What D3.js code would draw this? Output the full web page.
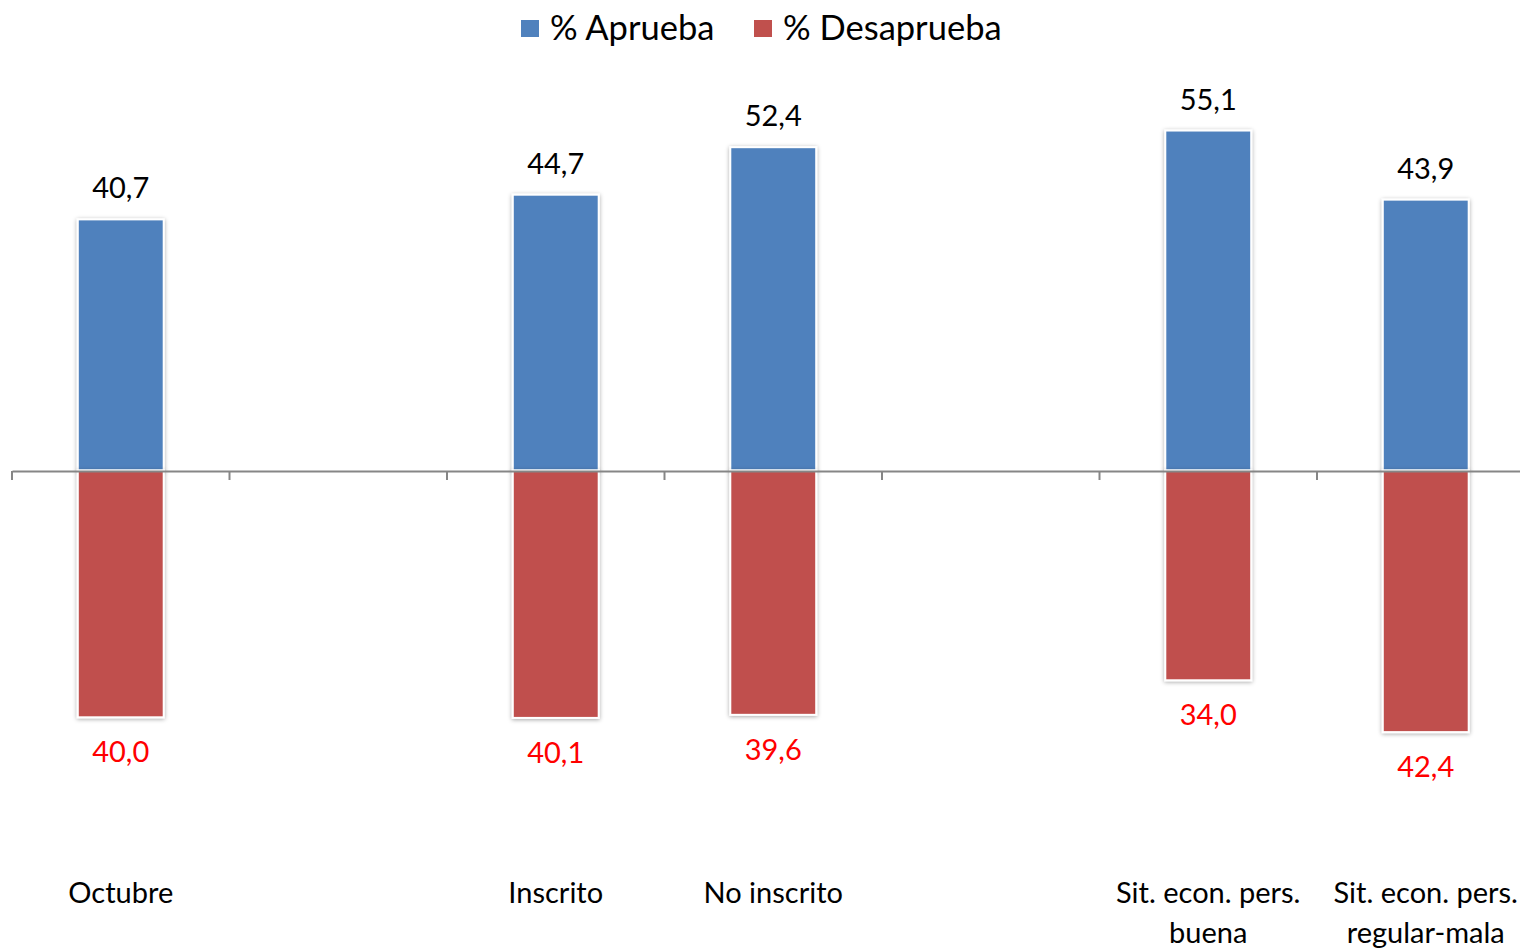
<!DOCTYPE html>
<html>
<head>
<meta charset="utf-8">
<script src="https://cdn.jsdelivr.net/npm/d3@7"></script>
<style>
  html, body { margin: 0; padding: 0; background: #fff; }
  svg { display: block; font-family: Lato, "Open Sans", sans-serif; }
</style>
</head>
<body>
<svg id="chart" width="1520" height="948"></svg>
<script>
// ---- data ----
const categories = [
  ["Octubre"],
  [""],
  ["Inscrito"],
  ["No inscrito"],
  [""],
  ["Sit. econ. pers.", "buena"],
  ["Sit. econ. pers.", "regular-mala"]
];
const aprueba    = [40.7, null, 44.7, 52.4, null, 55.1, 43.9];
const desaprueba = [40.0, null, 40.1, 39.6, null, 34.0, 42.4];
const seriesNames = ["% Aprueba", "% Desaprueba"];
const seriesColors = ["#4F81BD", "#C0504D"];

// ---- layout ----
const svg = d3.select("#chart");
const W = 1520, H = 948;

const defs = svg.append("defs");
const f = defs.append("filter").attr("id", "shadow")
  .attr("x", "-20%").attr("y", "-20%").attr("width", "140%").attr("height", "140%");
f.append("feDropShadow").attr("dx", 0).attr("dy", 1).attr("stdDeviation", 2)
  .attr("flood-color", "#000").attr("flood-opacity", 0.35);

const idx = d3.range(categories.length);
const x = d3.scaleBand().domain(idx).range([12, 1534.5]).padding(0);
const y = d3.scaleLinear().domain([-60, 60]).range([840.7, 100.3]);
const barW = x.bandwidth() * 0.395;
const fmt = v => d3.format(".1f")(v).replace(".", ",");

// bars
const g = svg.append("g");
idx.forEach(i => {
  const cx = x(i) + x.bandwidth() / 2;
  if (aprueba[i] != null) {
    g.append("rect")
      .attr("x", cx - barW / 2).attr("y", y(aprueba[i]))
      .attr("width", barW).attr("height", y(0) - y(aprueba[i]))
      .attr("fill", seriesColors[0]).attr("stroke", "#fff").attr("stroke-width", 2)
      .attr("filter", "url(#shadow)");
  }
  if (desaprueba[i] != null) {
    g.append("rect")
      .attr("x", cx - barW / 2).attr("y", y(0))
      .attr("width", barW).attr("height", y(-desaprueba[i]) - y(0))
      .attr("fill", seriesColors[1]).attr("stroke", "#fff").attr("stroke-width", 2)
      .attr("filter", "url(#shadow)");
  }
});

// axis
const axisG = svg.append("g").attr("transform", `translate(0,${y(0) + 0.5})`);
const axis = d3.axisBottom(x).tickSizeInner(0).tickSizeOuter(0).tickFormat("");
axisG.call(axis);
axisG.select(".domain").attr("stroke", "#868686").attr("stroke-width", 2);
axisG.selectAll(".tick").remove();
const bounds = idx.map(i => x(i));
axisG.selectAll("line.sep").data(bounds).join("line").attr("class", "sep")
  .attr("x1", d => d).attr("x2", d => d).attr("y1", 0).attr("y2", 9)
  .attr("stroke", "#868686").attr("stroke-width", 2);

// value labels
idx.forEach(i => {
  const cx = x(i) + x.bandwidth() / 2;
  if (aprueba[i] != null) {
    svg.append("text").attr("x", cx).attr("y", y(aprueba[i]) - 21)
      .attr("text-anchor", "middle").attr("font-size", 29).attr("fill", "#000")
      .text(fmt(aprueba[i]));
  }
  if (desaprueba[i] != null) {
    svg.append("text").attr("x", cx).attr("y", y(-desaprueba[i]) + 45)
      .attr("text-anchor", "middle").attr("font-size", 29).attr("fill", "#FF0000")
      .text(fmt(desaprueba[i]));
  }
});

// category labels
idx.forEach(i => {
  const cx = x(i) + x.bandwidth() / 2;
  const t = svg.append("text").attr("text-anchor", "middle").attr("font-size", 29).attr("fill", "#000");
  categories[i].forEach((line, k) => {
    t.append("tspan").attr("x", cx).attr("y", 903 + k * 40).text(line);
  });
});

// legend
const legend = [
  { name: seriesNames[0], color: seriesColors[0], sx: 521, tx: 550 },
  { name: seriesNames[1], color: seriesColors[1], sx: 754, tx: 783 }
];
legend.forEach(l => {
  svg.append("rect").attr("x", l.sx).attr("y", 20).attr("width", 18).attr("height", 17).attr("fill", l.color);
  svg.append("text").attr("x", l.tx).attr("y", 40).attr("font-size", 34.5).attr("fill", "#000").text(l.name);
});
</script>
</body>
</html>
